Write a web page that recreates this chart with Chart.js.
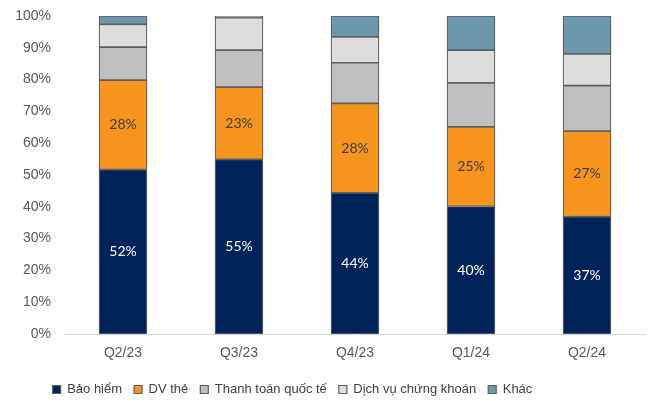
<!DOCTYPE html>
<html>
<head>
<meta charset="utf-8">
<script src="https://cdn.jsdelivr.net/npm/chart.js@4/dist/chart.umd.min.js"></script>
<style>
  html, body { margin: 0; padding: 0; background: #fff; }
  #wrap { width: 653px; height: 401px; }
</style>
</head>
<body>
<div id="wrap"><canvas id="myChart" width="653" height="401"></canvas></div>
<script>
const labels = ['Q2/23', 'Q3/23', 'Q4/23', 'Q1/24', 'Q2/24'];
const baoHiem = [51.7, 54.9, 44.4, 40.1, 36.9];
const dvThe = [28.1, 22.7, 28.1, 25.0, 26.9];
const thanhToan = [10.4, 11.7, 12.8, 13.9, 14.3];
const dichVuCk = [7.2, 10.2, 8.1, 10.3, 10.0];
const khac = [2.6, 0.5, 6.6, 10.7, 11.9];
const yTicks = [0, 10, 20, 30, 40, 50, 60, 70, 80, 90, 100];

// labels inside the two bottom segments
const barLabels = {
  id: 'barLabels',
  afterDatasetsDraw(chart) {
    const ctx = chart.ctx;
    ctx.save();
    ctx.font = '14px Lato, sans-serif';
    ctx.textAlign = 'center';
    ctx.textBaseline = 'middle';
    [0, 1].forEach(i => {
      const meta = chart.getDatasetMeta(i);
      ctx.fillStyle = i === 0 ? '#ffffff' : '#404040';
      meta.data.forEach((bar, j) => {
        const v = chart.data.datasets[i].data[j];
        const y = (bar.y + bar.base) / 2;
        ctx.fillText(Math.round(v) + '%', bar.x, y);
      });
    });
    ctx.restore();
  }
};

// legend sits a bit left of centre and lower in the original
const legendShift = {
  id: 'legendShift',
  afterLayout(chart) {
    chart.legend.left -= 30;
    chart.legend.right -= 30;
    chart.legend.top += 7;
    chart.legend.bottom += 7;
  }
};

const ds = (label, data, color) => ({
  label: label,
  data: data,
  backgroundColor: color,
  borderColor: '#5f5f5f',
  borderWidth: 1.2,
  borderSkipped: false,
  barThickness: 48
});

new Chart(document.getElementById('myChart').getContext('2d'), {
  type: 'bar',
  data: {
    labels: labels,
    datasets: [
      ds('Bảo hiểm', baoHiem, '#00245a'),
      ds('DV thẻ', dvThe, '#f7941d'),
      ds('Thanh toán quốc tế', thanhToan, '#bfbfbf'),
      ds('Dịch vụ chứng khoán', dichVuCk, '#dddddd'),
      ds('Khác', khac, '#6c97ad')
    ]
  },
  options: {
    responsive: false,
    animation: false,
    layout: { padding: { top: 16, right: 8, left: 0, bottom: 2 } },
    scales: {
      x: {
        stacked: true,
        afterFit(scale) { scale.height = 30; },
        grid: { display: false, drawTicks: false },
        border: { display: true, color: '#d9d9d9', width: 1 },
        ticks: { color: '#595959', font: { family: 'Liberation Sans', size: 14 }, padding: 11 }
      },
      y: {
        stacked: true,
        min: 0,
        max: 100,
        afterBuildTicks(scale) { scale.ticks = yTicks.map(v => ({ value: v })); },
        afterFit(scale) {
          scale.width = 65;
          scale.paddingTop = 0;
          scale.paddingBottom = 0;
        },
        grid: { display: false, drawTicks: false },
        border: { display: false },
        ticks: {
          color: '#595959',
          font: { family: 'Liberation Sans', size: 14 },
          padding: 14,
          callback: v => v + '%'
        }
      }
    },
    plugins: {
      legend: {
        position: 'bottom',
        labels: {
          color: '#404040',
          font: { family: 'Liberation Sans', size: 13 },
          boxWidth: 8,
          boxHeight: 8,
          padding: 12
        }
      },
      tooltip: { enabled: false }
    }
  },
  plugins: [barLabels, legendShift]
});
</script>
</body>
</html>
